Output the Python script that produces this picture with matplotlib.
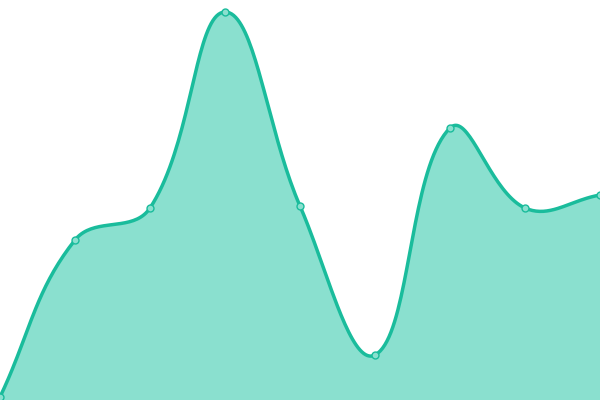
import numpy as np
import matplotlib
matplotlib.use("Agg")
import matplotlib.pyplot as plt

# values (chart units, 0 at the bottom edge)
labels = ["A", "B", "C", "D", "E", "F", "G", "H", "I"]
values = [3, 160, 192, 388, 194, 45, 272, 192, 205]

line_col = "#1abc9c"
fill_col = "#8ae0cf"
tension = 0.4


def spline_path(px, py, t=0.4, steps=40):
    # Chart.js-like bezier spline, computed in pixel space
    n = len(px)
    cps = []
    for i in range(n):
        p0 = (px[max(i - 1, 0)], py[max(i - 1, 0)])
        p1 = (px[i], py[i])
        p2 = (px[min(i + 1, n - 1)], py[min(i + 1, n - 1)])
        d01 = np.hypot(p1[0] - p0[0], p1[1] - p0[1])
        d12 = np.hypot(p2[0] - p1[0], p2[1] - p1[1])
        tot = d01 + d12
        s01 = d01 / tot if tot else 0
        s12 = d12 / tot if tot else 0
        fa, fb = t * s01, t * s12
        prev = (p1[0] - fa * (p2[0] - p0[0]), p1[1] - fa * (p2[1] - p0[1]))
        nxt = (p1[0] + fb * (p2[0] - p0[0]), p1[1] + fb * (p2[1] - p0[1]))
        cps.append((prev, nxt))
    xs, ys = [], []
    u = np.linspace(0, 1, steps)
    for i in range(n - 1):
        a = np.array([px[i], py[i]])
        b = np.array(cps[i][1])
        c = np.array(cps[i + 1][0])
        d = np.array([px[i + 1], py[i + 1]])
        pts = ((1 - u)[:, None] ** 3 * a + 3 * ((1 - u) ** 2 * u)[:, None] * b
               + 3 * ((1 - u) * u ** 2)[:, None] * c + (u ** 3)[:, None] * d)
        xs.extend(pts[:, 0])
        ys.extend(pts[:, 1])
    return np.array(xs), np.array(ys)


fig = plt.figure(figsize=(6, 4), dpi=100)
ax = fig.add_axes([0, 0, 1, 1])
x = np.arange(len(labels))
ax.set_xlim(0, len(labels) - 1)
ax.set_ylim(0, 400)
ax.axis("off")

disp = ax.transData.transform(np.column_stack([x, values]))
sx, sy = spline_path(disp[:, 0], disp[:, 1], tension)
curve = ax.transData.inverted().transform(np.column_stack([sx, sy]))
cx, cy = curve[:, 0], np.clip(curve[:, 1], 0, 400)

ax.fill_between(cx, 0, cy, color=fill_col, lw=0)
ax.plot(cx, cy, color=line_col, lw=2.5, solid_capstyle="round")
ax.plot(x, values, "o", ms=5, mfc=fill_col, mec=line_col, mew=1, clip_on=False)

fig.savefig("out.png", dpi=100)
